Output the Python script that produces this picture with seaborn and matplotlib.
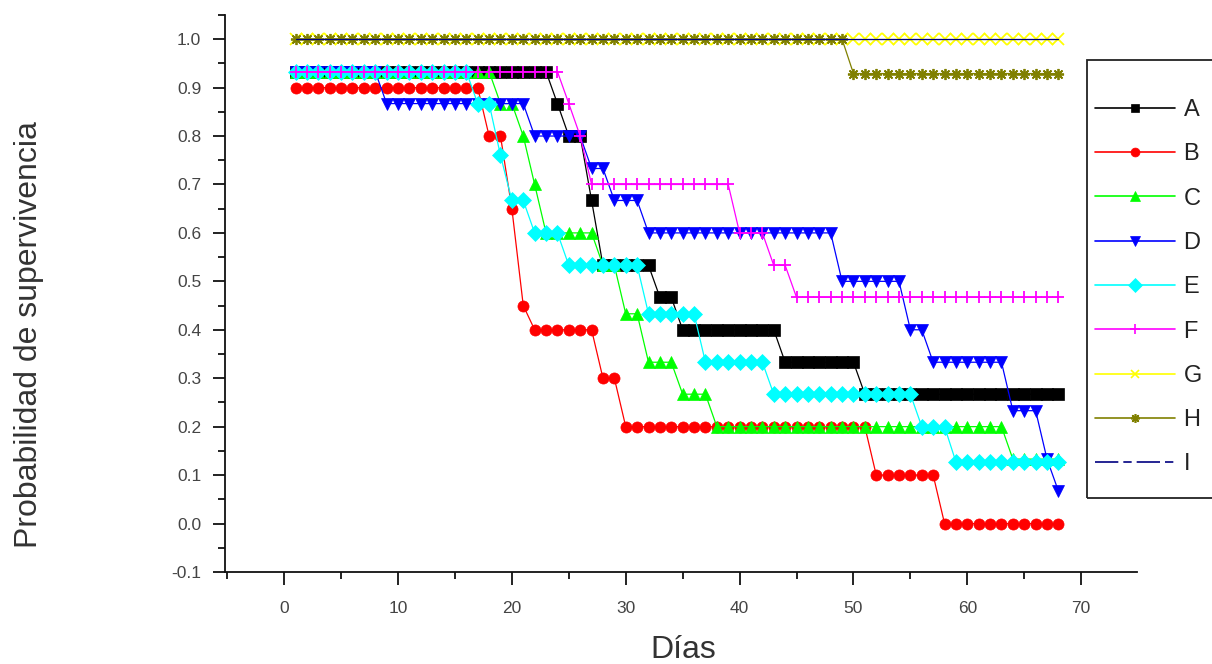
import matplotlib
matplotlib.use("Agg")
import matplotlib.pyplot as plt
from matplotlib.lines import Line2D
from matplotlib.patches import Rectangle
from matplotlib.ticker import MultipleLocator, FormatStrFormatter
import pandas as pd
import seaborn as sns

# ---- data: daily survival probability per group ----
dias = list(range(1, 69))

grupo_A = [0.933]*23 + [0.867] + [0.8]*2 + [0.667] + [0.533]*5 + [0.467]*2 + [0.4]*9 + [0.333]*7 + [0.267]*18
grupo_B = [0.9]*17 + [0.8]*2 + [0.65] + [0.45] + [0.4]*6 + [0.3]*2 + [0.2]*22 + [0.1]*6 + [0.0]*11
grupo_C = [0.933]*18 + [0.867]*2 + [0.8] + [0.7] + [0.6]*5 + [0.533]*2 + [0.433]*2 + [0.333]*3 + [0.267]*3 + [0.2]*26 + [0.133]*5
grupo_D = [0.933]*8 + [0.867]*13 + [0.8]*5 + [0.733]*2 + [0.667]*3 + [0.6]*17 + [0.5]*6 + [0.4]*2 + [0.333]*7 + [0.233]*3 + [0.133] + [0.067]
grupo_E = [0.933]*16 + [0.867]*2 + [0.76] + [0.667]*2 + [0.6]*3 + [0.533]*7 + [0.433]*5 + [0.333]*6 + [0.267]*13 + [0.2]*3 + [0.127]*10
grupo_F = [0.933]*24 + [0.867] + [0.8] + [0.7]*13 + [0.6]*3 + [0.533]*2 + [0.467]*24
grupo_G = [1.0]*68
grupo_H = [1.0]*49 + [0.929]*19
grupo_I = [1.0]*68

nombres = ["A", "B", "C", "D", "E", "F", "G", "H", "I"]
series = [grupo_A, grupo_B, grupo_C, grupo_D, grupo_E, grupo_F, grupo_G, grupo_H, grupo_I]

df = pd.concat(
    [pd.DataFrame({"Días": dias, "S": s, "grupo": n}) for n, s in zip(nombres, series)],
    ignore_index=True,
)

# ---- styles ----
colores = {"A": "#000000", "B": "#FF0000", "C": "#00FF00", "D": "#0000FF", "E": "#00FFFF",
           "F": "#FF00FF", "G": "#FFFF00", "H": "#808000", "I": "#000080"}
marcadores = {"A": "s", "B": "o", "C": "^", "D": "v", "E": "D", "F": "+", "G": "x",
              "H": (8, 2, 0), "I": None}
tamanos = {"A": 8, "B": 8, "C": 8.5, "D": 8.5, "E": 8.5, "F": 9, "G": 8, "H": 8, "I": 0}
lineales = ("+", "x", (8, 2, 0))

sns.set_style("ticks")
plt.rcParams["font.family"] = ["Liberation Sans", "DejaVu Sans"]
plt.rcParams["axes.unicode_minus"] = False

fig = plt.figure(figsize=(12.12, 6.64), dpi=100)
ax = fig.add_axes([0.1856, 0.1386, 0.7525, 0.8389])

handles = []
for n in nombres:
    sub = df[df["grupo"] == n]
    c = colores[n]
    m = marcadores[n]
    kw = dict(color=c, linewidth=0.9, estimator=None, legend=False, ax=ax)
    if m is not None:
        kw.update(marker=m, markersize=tamanos[n], markeredgecolor=c, markerfacecolor=c,
                  markeredgewidth=1.3 if m in lineales else 0.5)
    sns.lineplot(data=sub, x="Días", y="S", **kw)
    if m is not None:
        handles.append(Line2D([], [], color=c, linewidth=1.2, marker=m,
                              markersize=tamanos[n] * 0.8, markeredgecolor=c, markerfacecolor=c,
                              markeredgewidth=1.2 if m in lineales else 0.5))
    else:
        handles.append(Line2D([], [], color=c, linewidth=1.2, dashes=(14, 3, 5, 3)))

# ---- axes ----
ax.set_xlim(-5.2, 74.9)
ax.set_ylim(-0.1, 1.05)
ax.xaxis.set_major_locator(MultipleLocator(10))
ax.xaxis.set_minor_locator(MultipleLocator(5))
ax.yaxis.set_major_locator(MultipleLocator(0.1))
ax.yaxis.set_minor_locator(MultipleLocator(0.05))
ax.yaxis.set_major_formatter(FormatStrFormatter("%.1f"))

for s in ("top", "right"):
    ax.spines[s].set_visible(False)
for s in ("left", "bottom"):
    ax.spines[s].set_linewidth(1.3)
    ax.spines[s].set_color("#111111")

ax.tick_params(which="major", direction="out", length=9, width=1.3, color="#111111",
               labelsize=12.5, labelcolor="#444444")
ax.tick_params(which="minor", direction="out", length=5, width=1.3, color="#111111")
ax.tick_params(axis="x", which="major", pad=12)
ax.tick_params(axis="y", which="major", pad=8)

ax.set_xlabel("Días", fontsize=23, color="#333333")
ax.xaxis.set_label_coords(0.502, -0.113)
ax.set_ylabel("Probabilidad de supervivencia", fontsize=23, color="#333333")
ax.yaxis.set_label_coords(-0.198, 0.4255)

# ---- legend box at the right edge ----
fig.patches.append(Rectangle((1087 / 1212, 1 - 498 / 664), 0.2, (498 - 60) / 664,
                             transform=fig.transFigure, fill=False, edgecolor="#222222",
                             linewidth=1.3, clip_on=False))
leg = fig.legend(handles, nombres, loc="upper left", bbox_to_anchor=(1095 / 1212, 1 - 99 / 664),
                 frameon=False, fontsize=17, handlelength=3.4, handletextpad=0.35,
                 labelspacing=0.945, borderpad=0, borderaxespad=0, numpoints=1)
for t in leg.get_texts():
    t.set_color("#222222")

fig.savefig("out.png", dpi=100)
